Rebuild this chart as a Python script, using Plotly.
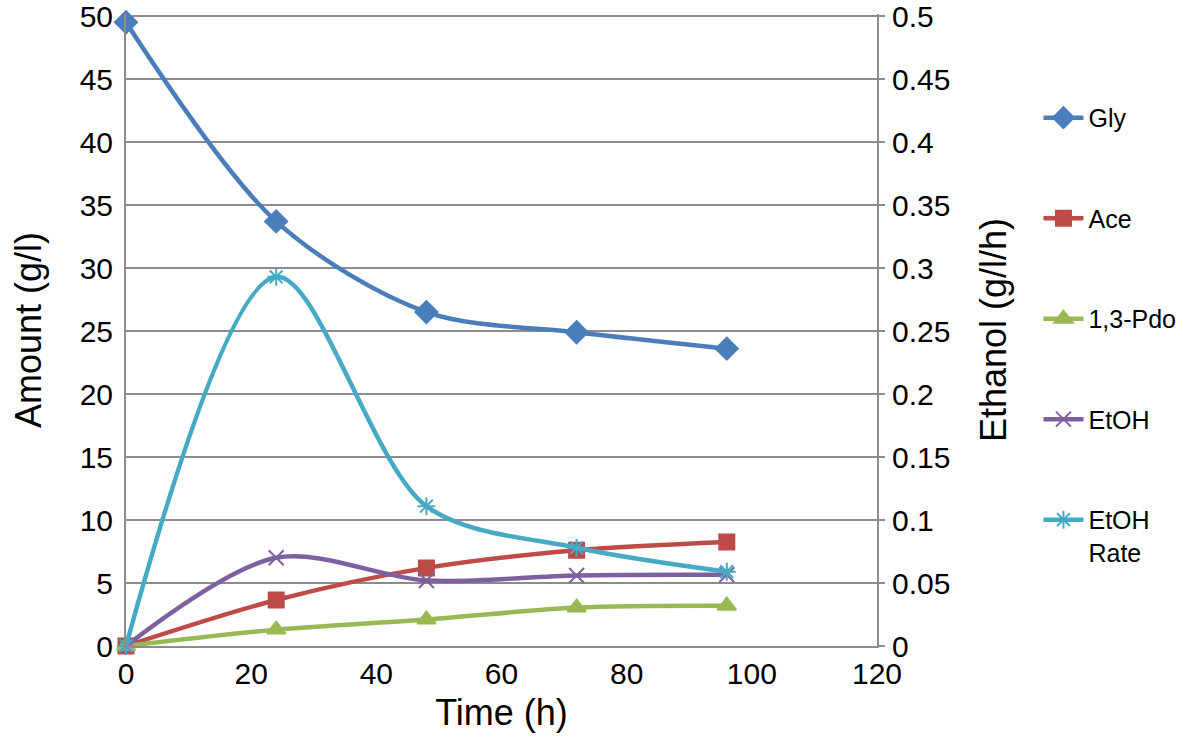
import plotly.graph_objects as go

time_h = [0, 24, 48, 72, 96]
gly = [49.5, 33.7, 26.5, 24.9, 23.6]
ace = [0, 3.65, 6.2, 7.6, 8.25]
pdo = [0, 1.3, 2.1, 3.05, 3.2]
etoh = [0, 7.0, 5.2, 5.6, 5.65]
etoh_rate = [0, 0.293, 0.111, 0.078, 0.059]

FONT = "Liberation Sans, Arial, sans-serif"

series = [
    ("Gly", gly, "#4A7EBB", "diamond", 17, "y"),
    ("Ace", ace, "#BE4B48", "square", 15, "y"),
    ("1,3-Pdo", pdo, "#98B954", "triangle-up", 16, "y"),
    ("EtOH", etoh, "#7D60A0", "x-thin", 15, "y"),
    ("EtOH<br>Rate", etoh_rate, "#46AAC5", "asterisk", 15, "y2"),
]

fig = go.Figure()
for name, vals, color, sym, size, yax in series:
    fig.add_trace(go.Scatter(
        x=time_h, y=vals, name=name, yaxis=yax, legendgroup=name,
        mode="lines+markers",
        line=dict(color=color, width=4.5, shape="spline", smoothing=0.9),
        marker=dict(symbol=sym, size=size, color=color,
                    line=dict(color=color, width=2)),
        cliponaxis=False,
    ))

fig.update_layout(
    width=1200, height=747,
    paper_bgcolor="white", plot_bgcolor="white",
    font=dict(family=FONT, color="black"),
    margin=dict(l=126, r=323, t=14, b=101),
    showlegend=True,
    legend=dict(x=1.215, y=0.872, xanchor="left", yanchor="top", valign="top",
                font=dict(size=25, family=FONT), traceorder="grouped",
                tracegroupgap=65, itemwidth=40, bgcolor="rgba(0,0,0,0)"),
    xaxis=dict(range=[0, 120], dtick=20, tick0=0, showgrid=False, automargin=False,
               showline=True, linecolor="#8C8C8C", linewidth=2,
               ticks="", tickfont=dict(size=30), zeroline=False, ticklabelstandoff=0,
               ticklabeloverflow="allow",
               title=dict(text="Time (h)", font=dict(size=36), standoff=11)),
    yaxis=dict(range=[0, 50.16], dtick=5, tick0=0, showgrid=True, automargin=False,
               gridcolor="#8C8C8C", gridwidth=2,
               showline=True, linecolor="#8C8C8C", linewidth=2,
               ticks="", tickfont=dict(size=30), zeroline=False, ticklabelstandoff=5,
               ticklabeloverflow="allow",
               title=dict(text="Amount (g/l)", font=dict(size=36), standoff=27)),
    yaxis2=dict(range=[0, 0.5016], dtick=0.05, tick0=0, overlaying="y", side="right",
                automargin=False,
                showgrid=False, showline=True, linecolor="#8C8C8C", linewidth=2,
                ticks="outside", ticklen=6, tickcolor="#8C8C8C", tickwidth=2,
                tickfont=dict(size=30), zeroline=False, ticklabelstandoff=1,
                ticklabeloverflow="allow",
                title=dict(text="Ethanol (g/l/h)", font=dict(size=36), standoff=31)),
)

fig.write_html("out.html", config={"displayModeBar": False},
               post_script="document.body.style.margin='0px';")
